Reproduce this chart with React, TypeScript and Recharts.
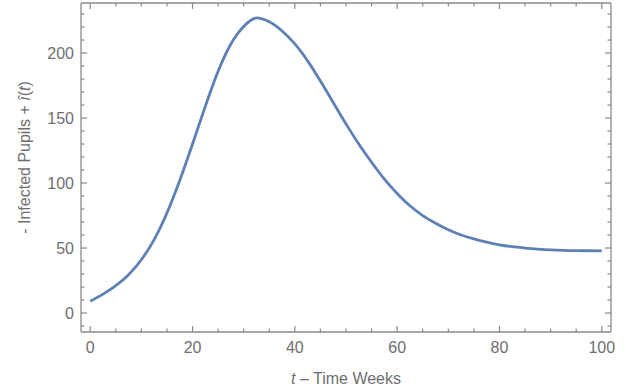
import { LineChart, Line, XAxis, YAxis } from 'recharts';

// weeks and infected pupils
const weeks = [
  0, 2.5, 5, 7.5, 10, 12.5, 15, 17.5, 20, 22.5, 25, 27.5, 30, 32.5, 35, 37.5, 40, 42.5, 45, 47.5,
  50, 52.5, 55, 57.5, 60, 62.5, 65, 67.5, 70, 72.5, 75, 77.5, 80, 82.5, 85, 87.5, 90, 92.5, 95, 97.5, 100,
];
const infected = [
  9, 14.5, 21, 29.5, 41, 56.5, 77, 102, 130, 159, 186, 207, 220.5, 227, 224, 217, 207, 194, 178.5, 162,
  145.5, 130, 116, 103, 92, 82.5, 75, 69, 64, 60, 57, 54.5, 52.5, 51, 50, 49.2, 48.6, 48.2, 48, 47.9, 47.8,
];

const xTicks = [0, 5, 10, 15, 20, 25, 30, 35, 40, 45, 50, 55, 60, 65, 70, 75, 80, 85, 90, 95, 100];
const yTicks = [-10, 0, 10, 20, 30, 40, 50, 60, 70, 80, 90, 100, 110, 120, 130, 140, 150, 160, 170, 180, 190, 200, 210, 220, 230];

const data = weeks.map((t, i) => ({ t, v: infected[i] }));

const frameColor = '#8a8a8a';
const textColor = '#6f6f6f';
const font = '"Liberation Sans", Arial, sans-serif';

type Side = 'bottom' | 'top' | 'left' | 'right';

// frame ticks point inwards, major ones are longer and (bottom/left) labelled
function makeTick(side: Side, major: number) {
  return (props: any) => {
    const { x, y, payload } = props;
    const value = payload.value;
    const isMajor = value % major === 0;
    const len = isMajor ? 6 : 3.5;
    let line;
    let label = null;
    if (side === 'bottom') {
      line = <line x1={x} x2={x} y1={y} y2={y - len} />;
      if (isMajor)
        label = (
          <text x={x} y={y + 10} dy="0.71em" textAnchor="middle">
            {value}
          </text>
        );
    } else if (side === 'top') {
      line = <line x1={x} x2={x} y1={y} y2={y + len} />;
    } else if (side === 'left') {
      line = <line x1={x} x2={x + len} y1={y} y2={y} />;
      if (isMajor)
        label = (
          <text x={x - 7} y={y} dy="0.36em" textAnchor="end">
            {value}
          </text>
        );
    } else {
      line = <line x1={x} x2={x - len} y1={y} y2={y} />;
    }
    return (
      <g>
        <g stroke={frameColor} strokeWidth={1.2}>{line}</g>
        {label && (
          <g fill={textColor} fontFamily={font} fontSize={16}>
            {label}
          </g>
        )}
      </g>
    );
  };
}

const renderXLabel = (props: any) => {
  const { x, y, width, height } = props.viewBox;
  return (
    <text x={x + width / 2} y={y + height - 7} textAnchor="middle" fill={textColor} fontFamily={font} fontSize={16}>
      <tspan fontStyle="italic">t</tspan> – Time Weeks
    </text>
  );
};

const renderYLabel = (props: any) => {
  const { x, y, height } = props.viewBox;
  const cx = x + 30;
  const cy = y + height / 2 - 10;
  return (
    <text
      x={cx}
      y={cy}
      transform={`rotate(-90 ${cx} ${cy})`}
      textAnchor="middle"
      fill={textColor}
      fontFamily={font}
      fontSize={16}
    >
      - Infected Pupils + <tspan fontStyle="italic">î</tspan>(<tspan fontStyle="italic">t</tspan>)
    </text>
  );
};

const axisLine = { stroke: frameColor, strokeWidth: 1.3 };
const xDomain = [-1.8, 101.8];
const yDomain = [-14.6, 238.5];

export default function App() {
  return (
    <div style={{ position: 'absolute', left: 0, top: 0, background: '#fff' }}>
      <LineChart width={626} height={391} data={data} margin={{ top: 2, right: 14, bottom: 0, left: 0 }}>
        <XAxis
          xAxisId="b"
          dataKey="t"
          type="number"
          domain={xDomain}
          allowDataOverflow
          ticks={xTicks}
          interval={0}
          tickLine={false}
          tickSize={0}
          tickMargin={0}
          axisLine={axisLine}
          height={59}
          tick={makeTick('bottom', 20)}
          label={renderXLabel}
        />
        <XAxis
          xAxisId="t"
          orientation="top"
          dataKey="t"
          type="number"
          domain={xDomain}
          allowDataOverflow
          ticks={xTicks}
          interval={0}
          tickLine={false}
          tickSize={0}
          tickMargin={0}
          axisLine={axisLine}
          height={1}
          tick={makeTick('top', 20)}
        />
        <YAxis
          yAxisId="l"
          type="number"
          domain={yDomain}
          allowDataOverflow
          ticks={yTicks}
          interval={0}
          tickLine={false}
          tickSize={0}
          tickMargin={0}
          axisLine={axisLine}
          width={81}
          tick={makeTick('left', 50)}
          label={renderYLabel}
        />
        <YAxis
          yAxisId="r"
          orientation="right"
          type="number"
          domain={yDomain}
          allowDataOverflow
          ticks={yTicks}
          interval={0}
          tickLine={false}
          tickSize={0}
          tickMargin={0}
          axisLine={axisLine}
          width={1}
          tick={makeTick('right', 50)}
        />
        {/* invisible copy so the top/right frame axes get drawn */}
        <Line
          xAxisId="t"
          yAxisId="r"
          type="monotone"
          dataKey="v"
          stroke="none"
          dot={false}
          activeDot={false}
          legendType="none"
          isAnimationActive={false}
        />
        <Line
          xAxisId="b"
          yAxisId="l"
          type="monotone"
          dataKey="v"
          stroke="#5e81b5"
          strokeWidth={2.8}
          dot={false}
          isAnimationActive={false}
        />
      </LineChart>
    </div>
  );
}
